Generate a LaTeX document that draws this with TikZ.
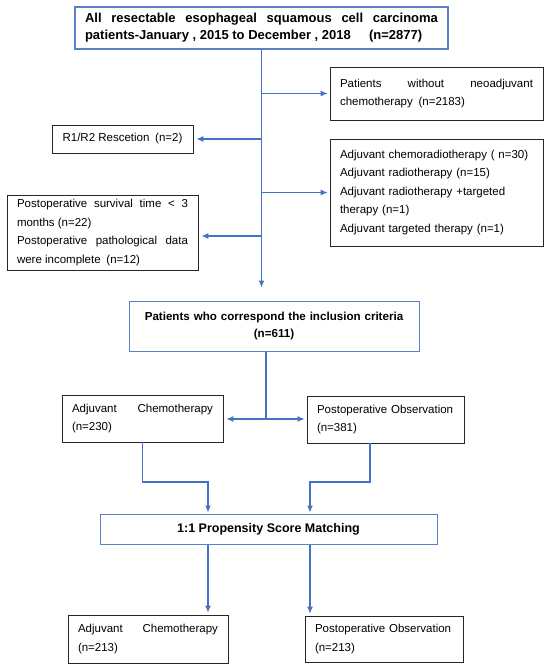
\documentclass[tikz,border=0pt]{standalone}
\usepackage{fontspec}
\setmainfont{Liberation Sans}
\usetikzlibrary{arrows.meta}
\definecolor{flowblue}{HTML}{4472C4}
\definecolor{edgeblue}{HTML}{5B82C8}
\hyphenpenalty=10000
\exhyphenpenalty=10000
\tikzset{
  box/.style={draw=black!85,line width=0.8pt,inner xsep=10pt,inner ysep=3pt,align=justify,
    font=\fontsize{11.5}{18.5}\selectfont},
  bluebox/.style={box,draw=edgeblue,line width=1.3pt,font=\fontsize{12.5}{17}\selectfont\bfseries},
  flow/.style={draw=flowblue,line width=1.1pt},
}

\begin{document}
\begin{tikzpicture}[x=1pt,y=-1pt,>={Latex[length=7pt,width=6pt]}]
  \useasboundingbox (0,0) rectangle (547,667);
  % screening
  \node[bluebox,text width=353pt,minimum height=42pt,font=\fontsize{13}{17}\selectfont\bfseries] (all) at (261.5,28)
    {All resectable esophageal squamous cell carcinoma patients-January , 2015 to December , 2018\hspace{1.4em}(n=2877)};
  \node[box,text width=193pt,minimum height=53pt] (nochemo) at (436.5,93.5)
    {Patients without neoadjuvant chemotherapy\enspace(n=2183)};
  \node[box,minimum width=141pt,minimum height=28pt] (rres) at (122.5,139)
    {R1/R2 Rescetion\enspace(n=2)};
  \node[box,align=left,text width=193pt,minimum height=107pt] (adjuv) at (436.5,192.5)
    {Adjuvant chemoradiotherapy ( n=30)\\Adjuvant radiotherapy (n=15)\\Adjuvant radiotherapy +targeted\\therapy (n=1)\\Adjuvant targeted therapy (n=1)};
  \node[box,text width=171pt,minimum height=75pt] (postsurv) at (102.5,232.5)
    {Postoperative survival time < 3 months (n=22)\\Postoperative pathological data were incomplete\enspace(n=12)};
  \node[bluebox,align=center,text width=270pt,minimum height=50pt,line width=1pt,
    font=\fontsize{11.6}{17}\selectfont\bfseries] (incl) at (274,326)
    {Patients who correspond the inclusion criteria\\(n=611)};
  % groups
  \node[box,text width=141pt,minimum height=47pt] (adj1) at (142.5,418.5)
    {Adjuvant Chemotherapy (n=230)};
  \node[box,align=left,text width=137pt,minimum height=47pt] (obs1) at (385.5,419.5)
    {Postoperative Observation\\(n=381)};
  \node[bluebox,minimum width=337pt,minimum height=30pt,line width=1pt] (psm) at (268.5,529)
    {1:1 Propensity Score Matching};
  \node[box,text width=140pt,minimum height=48pt] (adj2) at (148,639)
    {Adjuvant Chemotherapy (n=213)};
  \node[box,align=left,text width=138pt,minimum height=46pt] (obs2) at (384,639)
    {Postoperative Observation\\(n=213)};

  \coordinate (b4) at (261.5,236);
  \coordinate (split) at (266,419);
  \coordinate (m1) at (208,482);
  \coordinate (m2) at (310,482);
  \coordinate (k2) at (370,482);

  \draw[flow,->,shorten >=13pt] (all.south) -- (all.south |- incl.north);
  \draw[flow,->,shorten >=2pt] (all.south |- nochemo.west) -- (nochemo.west);
  \draw[flow,->,shorten >=3pt] (all.south |- rres.east) -- (rres.east);
  \draw[flow,->,shorten >=2pt] (all.south |- adjuv.west) -- (adjuv.west);
  \draw[flow,->,shorten >=3pt] (b4) -- (b4 -| postsurv.east);
  \draw[flow] (split |- incl.south) -- (split);
  \draw[flow,<->,shorten <=3pt,shorten >=2pt] (split -| adj1.east) -- (split -| obs1.west);
  \draw[flow,->,shorten >=1pt] (adj1.south) |- (m1) -- (m1 |- psm.north);
  \draw[flow,->,shorten >=1pt] (k2 |- obs1.south) -- (k2) -- (m2) -- (m2 |- psm.north);
  \draw[flow,->,shorten >=2pt] (m1 |- psm.south) -- (m1 |- adj2.north);
  \draw[flow,->,shorten >=2pt] (m2 |- psm.south) -- (m2 |- obs2.north);
\end{tikzpicture}
\end{document}
